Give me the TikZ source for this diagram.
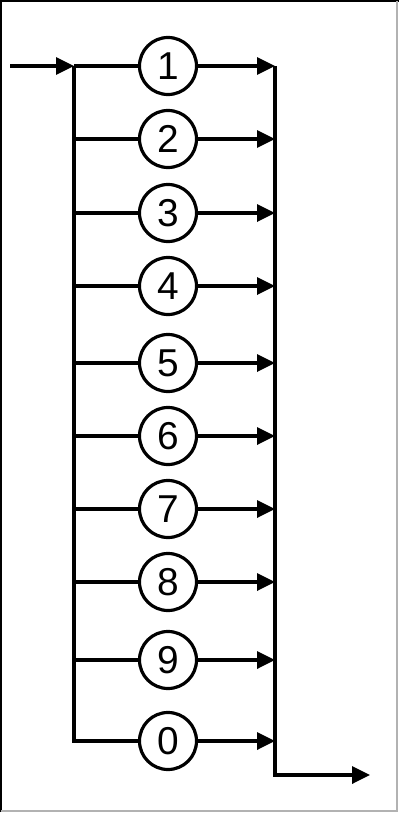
\documentclass[tikz,border=0pt]{standalone}
\usepackage{fontspec}
\setmainfont{Liberation Sans}
\usetikzlibrary{arrows.meta}
\begin{document}
\begin{tikzpicture}[x=1bp,y=-1bp,
  line width=3.4bp,
  digit/.style={circle,draw,line width=3.2bp,minimum size=57bp,inner sep=0pt,font=\fontsize{39}{39}\selectfont},
  arr/.style={-{Triangle[length=18bp,width=17bp]}}]
\useasboundingbox (0,0) rectangle (400,813);
\draw[black,line width=2bp] (1,812) -- (1,1) -- (399,1);
\draw[black!30,line width=1.5bp] (397,1) -- (397,811) -- (1,811);
\foreach \d/\y in {1/66,2/139,3/213,4/286,5/363,6/436,7/509,8/582,9/660,0/741}{
  \node[digit] (c\d) at (168,\y) {\d};
  \coordinate (L\d) at (74,\y);
  \coordinate (R\d) at (275,\y);
  \draw (L\d) -- (c\d);
  \draw[arr] (c\d) -- (R\d);
}
\coordinate (in) at (10,66);
\coordinate (Rb) at (275,775);
\coordinate (out) at (370,775);
\draw[arr] (in) -- (L1);
\draw (L1) -- (L0) -- (c0);
\draw[arr] (R1) -- (Rb) -- (out);
\end{tikzpicture}
\end{document}
